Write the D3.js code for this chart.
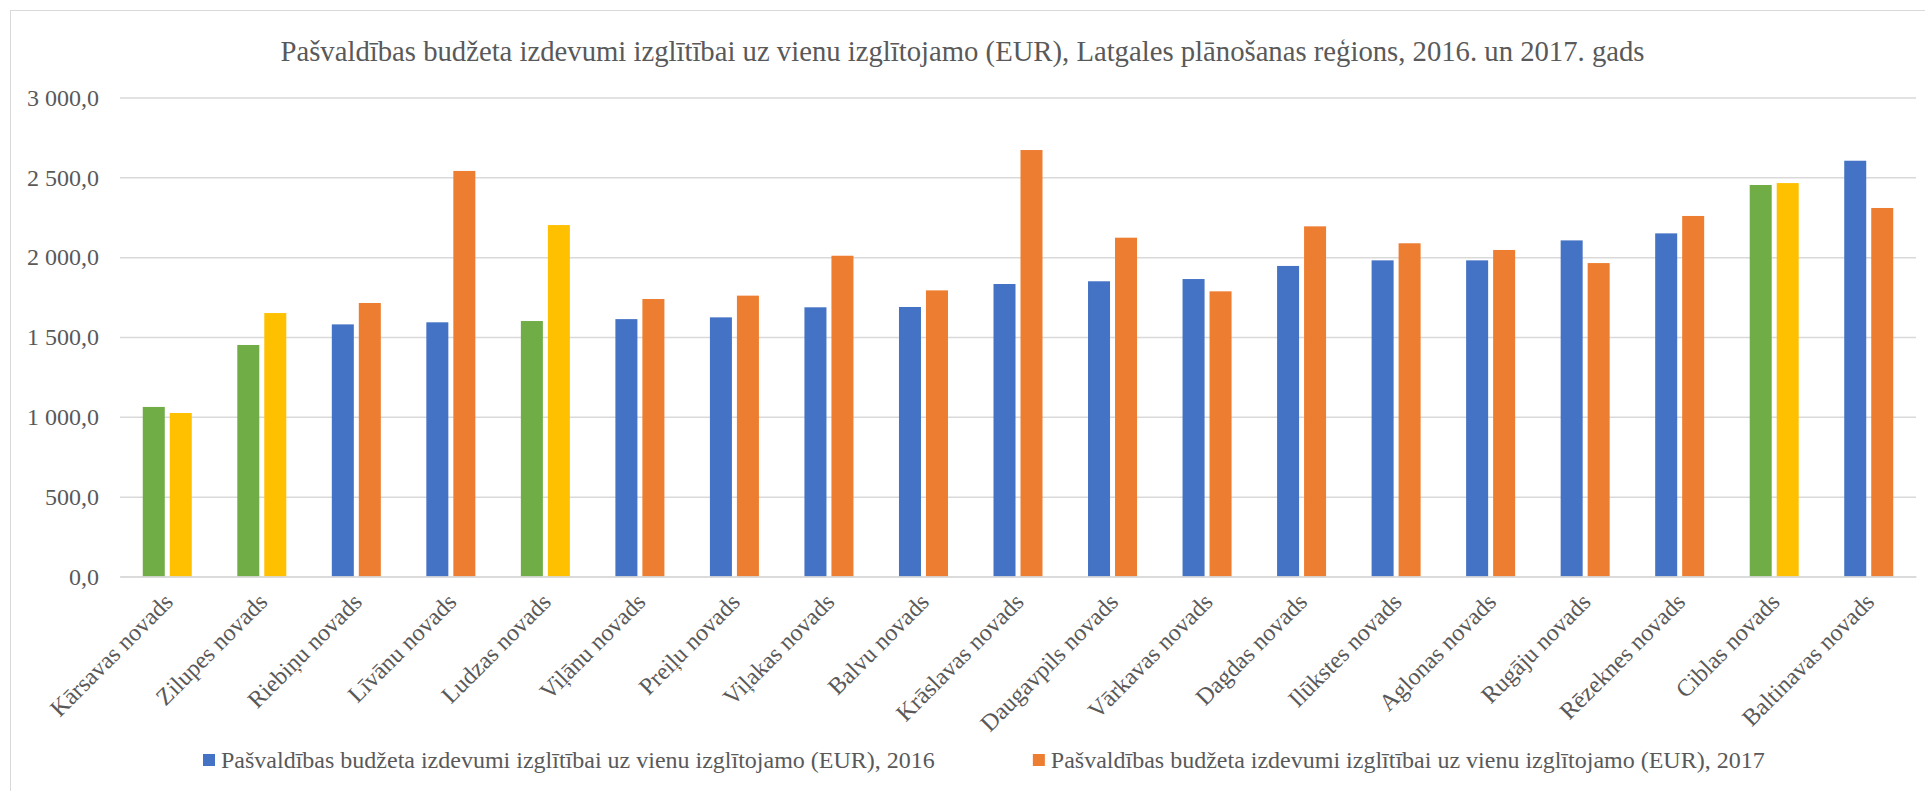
<!DOCTYPE html>
<html>
<head>
<meta charset="utf-8">
<script src="https://cdn.jsdelivr.net/npm/d3@7"></script>
<style>
  html, body { margin: 0; padding: 0; background: #ffffff; }
  svg { display: block; }
  text { font-family: "Liberation Serif", "Times New Roman", serif; fill: #595959; }
</style>
</head>
<body>
<svg id="chart"></svg>
<script>
const titleText = "Pašvaldības budžeta izdevumi izglītībai uz vienu izglītojamo (EUR), Latgales plānošanas reģions, 2016. un 2017. gads";

const categories = [
  "Kārsavas novads", "Zilupes novads", "Riebiņu novads", "Līvānu novads", "Ludzas novads",
  "Viļānu novads", "Preiļu novads", "Viļakas novads", "Balvu novads", "Krāslavas novads",
  "Daugavpils novads", "Vārkavas novads", "Dagdas novads", "Ilūkstes novads", "Aglonas novads",
  "Rugāju novads", "Rēzeknes novads", "Ciblas novads", "Baltinavas novads"
];

const values2016 = [1062, 1450, 1579, 1592, 1600, 1612, 1623, 1686, 1688, 1832,
                    1849, 1863, 1945, 1980, 1980, 2105, 2149, 2452, 2604];
const values2017 = [1024, 1650, 1713, 2540, 2201, 1738, 1759, 2009, 1792, 2671,
                    2122, 1786, 2193, 2087, 2045, 1963, 2258, 2464, 2308];

// categories drawn with the highlight colours (green / yellow)
const highlightCategories = ["Kārsavas novads", "Zilupes novads", "Ludzas novads", "Ciblas novads"];

const seriesKeys = ["2016", "2017"];
const seriesNames = [
  "Pašvaldības budžeta izdevumi izglītībai uz vienu izglītojamo (EUR), 2016",
  "Pašvaldības budžeta izdevumi izglītībai uz vienu izglītojamo (EUR), 2017"
];
const yTicks = [0, 500, 1000, 1500, 2000, 2500, 3000];

const colors = { "2016": "#4472C4", "2017": "#ED7D31" };
const highlightColors = { "2016": "#70AD47", "2017": "#FFC000" };

const W = 1925, H = 791;
const plot = { left: 120, right: 1916, top: 97.5, bottom: 576.5 };

const svg = d3.select("#chart").attr("width", W).attr("height", H);

// chart area border (right/bottom edges lie outside the visible window)
svg.append("rect")
  .attr("x", 10.5).attr("y", 10.5)
  .attr("width", 1940).attr("height", 800)
  .attr("fill", "#ffffff").attr("stroke", "#d9d9d9").attr("stroke-width", 1);

// title
svg.append("text")
  .attr("x", 962.5).attr("y", 61)
  .attr("text-anchor", "middle")
  .style("font-size", "28.7px")
  .text(titleText);

const x0 = d3.scaleBand()
  .domain(categories)
  .range([plot.left, plot.right])
  .paddingInner(0.4816)
  .paddingOuter(0.2408);

const x1 = d3.scaleBand()
  .domain(seriesKeys)
  .range([0, x0.bandwidth()])
  .paddingInner(0.185);

const y = d3.scaleLinear().domain([0, 3000]).range([plot.bottom, plot.top]);

const locale = d3.formatLocale({ decimal: ",", thousands: " ", grouping: [3], currency: ["", ""] });
const fmt = locale.format(",.1f");

// y axis with gridlines
const yAxis = svg.append("g")
  .attr("transform", `translate(${plot.left},0)`)
  .call(d3.axisLeft(y)
    .tickValues(yTicks)
    .tickFormat(fmt)
    .tickSize(-(plot.right - plot.left))
    .tickPadding(21));
yAxis.select(".domain").remove();
yAxis.selectAll(".tick line").attr("stroke", "#d9d9d9").attr("stroke-width", 1.5);
yAxis.selectAll(".tick text")
  .style("font-size", "24px")
  .style("font-family", "'Liberation Serif', 'Times New Roman', serif")
  .attr("fill", "#595959");

// bars
const rows = categories.map((c, i) => ({ cat: c, "2016": values2016[i], "2017": values2017[i] }));

const groups = svg.append("g").selectAll("g")
  .data(rows)
  .join("g")
  .attr("transform", d => `translate(${x0(d.cat)},0)`);

groups.selectAll("rect")
  .data(d => seriesKeys.map(k => ({ key: k, value: d[k], cat: d.cat })))
  .join("rect")
  .attr("x", d => x1(d.key))
  .attr("width", x1.bandwidth())
  .attr("y", d => y(d.value))
  .attr("height", d => y(0) - y(d.value))
  .attr("fill", d => highlightCategories.includes(d.cat) ? highlightColors[d.key] : colors[d.key]);

// x axis
const xAxis = svg.append("g")
  .attr("transform", `translate(0,${plot.bottom})`)
  .call(d3.axisBottom(x0).tickSize(0).tickSizeOuter(0).tickPadding(0));
xAxis.select(".domain").attr("stroke", "#d9d9d9").attr("stroke-width", 1.5);
xAxis.selectAll(".tick text")
  .style("font-size", "24px")
  .style("font-family", "'Liberation Serif', 'Times New Roman', serif")
  .attr("fill", "#595959")
  .attr("text-anchor", "end")
  .attr("dy", null)
  .attr("y", null)
  .attr("transform", "translate(7,27) rotate(-45)");

// legend
const legend = svg.append("g");
let lx = 203;
seriesKeys.forEach((k, i) => {
  legend.append("rect")
    .attr("x", lx).attr("y", 754)
    .attr("width", 12).attr("height", 12)
    .attr("fill", colors[k]);
  const t = legend.append("text")
    .attr("x", lx + 18).attr("y", 768)
    .style("font-size", "24px")
    .text(seriesNames[i]);
  lx = lx + 18 + t.node().getComputedTextLength() + 98;
});
</script>
</body>
</html>
